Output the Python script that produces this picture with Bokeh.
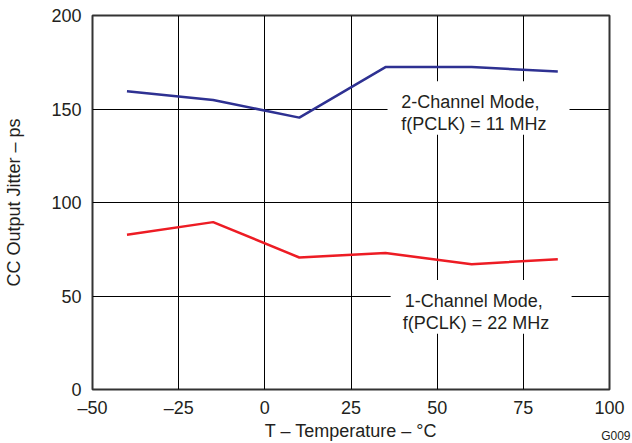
from bokeh.plotting import figure
from bokeh.models import Range1d, FixedTicker, Label, BoxAnnotation, Title
from bokeh.embed import file_html
from bokeh.resources import INLINE

# ---- data ----
temps = [-40, -15, 10, 35, 60, 85]
jitter_2ch = [159.5, 154.8, 145.4, 172.4, 172.4, 170.1]
jitter_1ch = [82.8, 89.5, 70.6, 73.0, 67.0, 69.7]

x_ticks = [-50, -25, 0, 25, 50, 75, 100]
x_tick_labels = ["\u201350", "\u201325", "0", "25", "50", "75", "100"]
y_ticks = [0, 50, 100, 150, 200]
y_tick_labels = ["0", "50", "100", "150", "200"]

x_title = "T \u2013 Temperature \u2013 \u00b0C"
y_title = "CC Output Jitter \u2013 ps"
label_2ch = ["2-Channel Mode,", "f(PCLK) = 11 MHz"]
label_1ch = ["1-Channel Mode,", "f(PCLK) = 22 MHz"]
fig_id = "G009"

FONT = "Liberation Sans"
TXT = "#231f20"
BLUE = "#2e3192"
RED = "#ed1c24"

p = figure(width=632, height=443, output_backend="svg", toolbar_location=None,
           x_range=Range1d(-50, 100), y_range=Range1d(0, 200),
           min_border_left=92, min_border_right=23, min_border_top=15,
           min_border_bottom=53)
p.background_fill_color = "white"
p.border_fill_color = "white"
p.outline_line_color = "#333333"
p.outline_line_width = 2

p.xaxis.ticker = FixedTicker(ticks=x_ticks)
p.yaxis.ticker = FixedTicker(ticks=y_ticks)
p.xaxis.major_label_overrides = dict(zip(x_ticks, x_tick_labels))
p.yaxis.major_label_overrides = dict(zip(y_ticks, y_tick_labels))

for ax in (p.xaxis, p.yaxis):
    ax.axis_line_color = None
    ax.major_tick_line_color = None
    ax.minor_tick_line_color = None
    ax.major_tick_out = 0
    ax.major_tick_in = 0
    ax.major_label_text_font = FONT
    ax.major_label_text_font_size = "18px"
    ax.major_label_text_color = TXT
    ax.axis_label_text_font = FONT
    ax.axis_label_text_font_size = "18px"
    ax.axis_label_text_font_style = "normal"
    ax.axis_label_text_color = TXT

p.xaxis.axis_label = x_title
p.yaxis.axis_label = y_title
p.xaxis.major_label_standoff = 8
p.xaxis.axis_label_standoff = 0
p.yaxis.major_label_standoff = 11
p.yaxis.axis_label_standoff = 24

p.xgrid.ticker = FixedTicker(ticks=x_ticks)
p.ygrid.ticker = FixedTicker(ticks=y_ticks)
p.grid.grid_line_color = "black"
p.grid.grid_line_width = 1

p.line(temps, jitter_2ch, line_color=BLUE, line_width=2.5)
p.line(temps, jitter_1ch, line_color=RED, line_width=2.5)

# label backgrounds (white boxes that interrupt the grid)
p.add_layout(BoxAnnotation(left=35.6, right=88.4, bottom=136.2, top=164.9,
                           fill_color="white", fill_alpha=1, line_color=None))
p.add_layout(BoxAnnotation(left=36.5, right=89.0, bottom=29.8, top=58.5,
                           fill_color="white", fill_alpha=1, line_color=None))

def add_text(x, y, t, size="18px", align="left", baseline="alphabetic"):
    p.add_layout(Label(x=x, y=y, text=t, text_font=FONT, text_font_size=size,
                       text_color=TXT, text_align=align, text_baseline=baseline))

add_text(39.6, 153.6, label_2ch[0])
add_text(39.6, 141.9, label_2ch[1])
add_text(40.6, 47.2, label_1ch[0])
add_text(40.0, 35.5, label_1ch[1])

# small figure code at the bottom-right corner (outside the frame)
p.add_layout(Title(text=fig_id, align="right", vertical_align="top",
                   text_font=FONT, text_font_size="12px", text_font_style="normal",
                   text_color=TXT, standoff=-29, offset=-21), "below")

open("out.html", "w").write(file_html(p, INLINE))
